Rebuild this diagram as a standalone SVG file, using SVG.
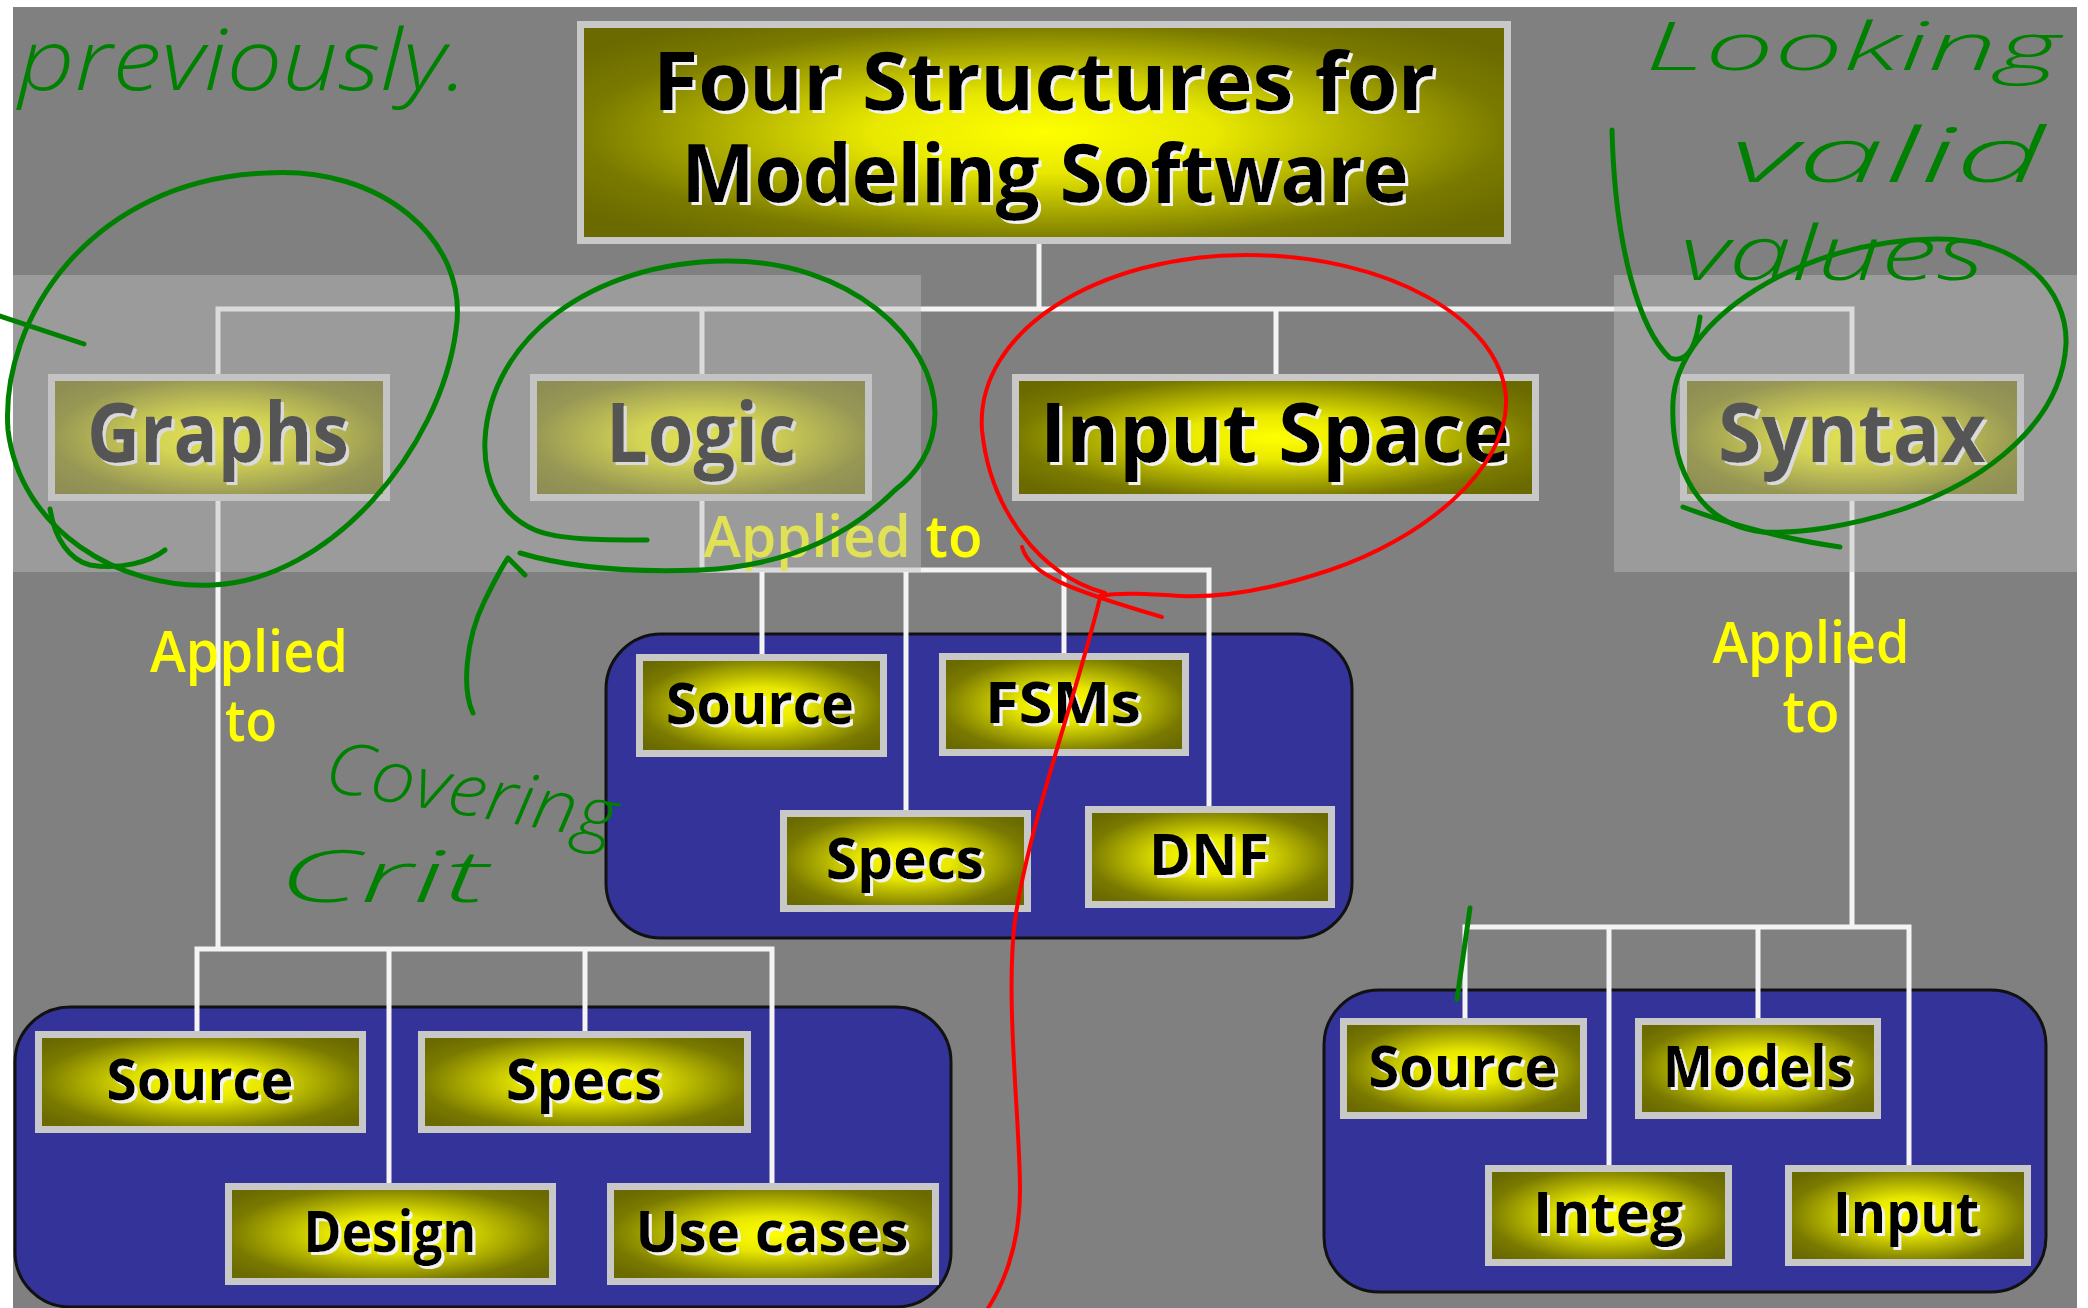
<svg xmlns="http://www.w3.org/2000/svg" width="2088" height="1308" viewBox="0 0 2088 1308">
<defs>
<radialGradient id="yg" cx="0.5" cy="0.5" r="0.62">
<stop offset="0" stop-color="#ffff00"/>
<stop offset="0.3" stop-color="#e8e800"/>
<stop offset="0.8" stop-color="#7a7a00"/>
<stop offset="1" stop-color="#6a6a00"/>
</radialGradient>
<filter id="ws" x="-5%" y="-10%" width="115%" height="130%">
<feOffset in="SourceAlpha" dx="3" dy="3" result="o"/>
<feFlood flood-color="#f2f2f2" result="f"/>
<feComposite in="f" in2="o" operator="in" result="s"/>
<feMerge><feMergeNode in="s"/><feMergeNode in="SourceGraphic"/></feMerge>
</filter>
<style>
.bx{fill:url(#yg);stroke:#c8c8c8;stroke-width:7}
.grp{fill:#333399;stroke:#111111;stroke-width:3}
.ln{stroke:#f4f4f4;stroke-width:5;fill:none;stroke-linecap:square}
.t{font-family:"Open Sans","DejaVu Sans",sans-serif;font-weight:bold;text-anchor:middle;fill:#000000;filter:url(#ws)}
.ap{font-family:"Open Sans","DejaVu Sans",sans-serif;font-weight:600;font-size:57px;fill:#ffff00;text-anchor:middle}
.g{stroke:#008000;stroke-width:5;fill:none;stroke-linecap:round;stroke-linejoin:round}
.r{stroke:#ff0000;stroke-width:4;fill:none;stroke-linecap:round;stroke-linejoin:round}
.hw{font-family:"Open Sans","DejaVu Sans",sans-serif;font-style:italic;font-weight:300;fill:#008000}
</style>
</defs>
<rect x="0" y="0" width="2088" height="1308" fill="#ffffff"/>
<rect x="13" y="7" width="2064" height="1301" fill="#808080"/>

<g id="group-graphs-targets"><rect class="grp" x="15" y="1007" width="936" height="300" rx="55"/></g>
<g id="group-logic-targets"><rect class="grp" x="606" y="634" width="746" height="304" rx="55"/></g>
<g id="group-syntax-targets"><rect class="grp" x="1324" y="990" width="722" height="302" rx="55"/></g>

<g id="connectors">
<path class="ln" d="M1039 244 V309 M218 309 H1852 M218 309 V374 M702 309 V374 M1276 309 V374 M1852 309 V374"/>
<path class="ln" d="M218 501 V949 M197 949 H772 M197 949 V1031 M389 949 V1183 M585 949 V1031 M772 949 V1183"/>
<path class="ln" d="M702 501 V570 H1209 M762 570 V654 M906 570 V810 M1064 570 V654 M1209 570 V806"/>
<path class="ln" d="M1852 501 V927 M1465 927 H1909 M1465 927 V1018 M1609 927 V1165 M1758 927 V1018 M1909 927 V1165"/>
</g>

<g id="title">
<rect class="bx" x="580.5" y="24.5" width="927" height="216"/>
<text class="t" font-size="80" x="1044" y="110" textLength="782" lengthAdjust="spacingAndGlyphs">Four Structures for</text>
<text class="t" font-size="80" x="1045" y="202" textLength="727" lengthAdjust="spacingAndGlyphs">Modeling Software</text>
</g>

<g id="graphs">
<rect class="bx" x="51.5" y="377.5" width="335" height="120"/>
<text class="t" font-size="82" x="218" y="462" textLength="262" lengthAdjust="spacingAndGlyphs">Graphs</text>
</g>
<g id="logic">
<rect class="bx" x="533.5" y="377.5" width="335" height="120"/>
<text class="t" font-size="82" x="701" y="462" textLength="190" lengthAdjust="spacingAndGlyphs">Logic</text>
</g>
<g id="input-space">
<rect class="bx" x="1015.5" y="377.5" width="520" height="120"/>
<text class="t" font-size="82" x="1275" y="462" textLength="470" lengthAdjust="spacingAndGlyphs">Input Space</text>
</g>
<g id="syntax">
<rect class="bx" x="1683.5" y="377.5" width="337" height="120"/>
<text class="t" font-size="82" x="1852" y="462" textLength="268" lengthAdjust="spacingAndGlyphs">Syntax</text>
</g>

<g id="g-source">
<rect class="bx" x="38.5" y="1034.5" width="324" height="95"/>
<text class="t" font-size="57" x="200" y="1100" textLength="187" lengthAdjust="spacingAndGlyphs">Source</text>
</g>
<g id="g-specs">
<rect class="bx" x="421.5" y="1034.5" width="326" height="95"/>
<text class="t" font-size="57" x="584" y="1100" textLength="156" lengthAdjust="spacingAndGlyphs">Specs</text>
</g>
<g id="g-design">
<rect class="bx" x="228.5" y="1186.5" width="324" height="95"/>
<text class="t" font-size="57" x="390" y="1252" textLength="173" lengthAdjust="spacingAndGlyphs">Design</text>
</g>
<g id="g-usecases">
<rect class="bx" x="610.5" y="1186.5" width="325" height="95"/>
<text class="t" font-size="57" x="772" y="1252" textLength="273" lengthAdjust="spacingAndGlyphs">Use cases</text>
</g>

<g id="l-source">
<rect class="bx" x="639.5" y="657.5" width="244" height="96"/>
<text class="t" font-size="57" x="760" y="724" textLength="188" lengthAdjust="spacingAndGlyphs">Source</text>
</g>
<g id="l-fsms">
<rect class="bx" x="942.5" y="656.5" width="243" height="96"/>
<text class="t" font-size="57" x="1063" y="723" textLength="156" lengthAdjust="spacingAndGlyphs">FSMs</text>
</g>
<g id="l-specs">
<rect class="bx" x="783.5" y="813.5" width="244" height="95"/>
<text class="t" font-size="57" x="905" y="879" textLength="158" lengthAdjust="spacingAndGlyphs">Specs</text>
</g>
<g id="l-dnf">
<rect class="bx" x="1088.5" y="809.5" width="243" height="95"/>
<text class="t" font-size="57" x="1209" y="875" textLength="120" lengthAdjust="spacingAndGlyphs">DNF</text>
</g>

<g id="s-source">
<rect class="bx" x="1343.5" y="1021.5" width="240" height="94"/>
<text class="t" font-size="57" x="1463" y="1087" textLength="189" lengthAdjust="spacingAndGlyphs">Source</text>
</g>
<g id="s-models">
<rect class="bx" x="1638.5" y="1021.5" width="239" height="94"/>
<text class="t" font-size="57" x="1758" y="1087" textLength="190" lengthAdjust="spacingAndGlyphs">Models</text>
</g>
<g id="s-integ">
<rect class="bx" x="1488.5" y="1168.5" width="240" height="94"/>
<text class="t" font-size="57" x="1608" y="1233" textLength="150" lengthAdjust="spacingAndGlyphs">Integ</text>
</g>
<g id="s-input">
<rect class="bx" x="1788.5" y="1168.5" width="239" height="94"/>
<text class="t" font-size="57" x="1906" y="1233" textLength="146" lengthAdjust="spacingAndGlyphs">Input</text>
</g>

<g id="labels">
<text class="ap" x="249" y="672" textLength="198" lengthAdjust="spacingAndGlyphs">Applied</text>
<text class="ap" x="251" y="741" textLength="52" lengthAdjust="spacingAndGlyphs">to</text>
<text class="ap" x="843" y="557" textLength="279" lengthAdjust="spacingAndGlyphs">Applied to</text>
<text class="ap" x="1811" y="663" textLength="197" lengthAdjust="spacingAndGlyphs">Applied</text>
<text class="ap" x="1811" y="732" textLength="57" lengthAdjust="spacingAndGlyphs">to</text>
</g>

<g id="highlight-bands">
<rect x="13" y="275" width="908" height="297" fill="#bdbdbd" fill-opacity="0.45"/>
<rect x="1614" y="275" width="463" height="297" fill="#bdbdbd" fill-opacity="0.45"/>
</g>

<g id="ink">
<path class="g" d="M266 173 C380 165 470 240 456 330 C440 450 330 580 213 585 C120 590 20 530 8 430 C0 320 90 180 266 173"/>
<path class="g" d="M50 509 C55 540 70 560 90 565 C120 570 150 562 165 550"/>
<path class="g" d="M0 316 L84 344"/>
<path class="g" d="M647 540 C600 540 560 540 535 530 C500 515 483 480 485 440 C490 340 590 262 726 261 C850 260 935 340 935 413 C935 450 915 475 895 490 C840 545 770 567 700 570 C620 573 560 565 520 553"/>
<path class="g" d="M473 713 C462 690 465 640 485 600 C495 580 503 565 508 558 L525 575"/>
<path class="g" d="M1763 532 C1700 525 1670 470 1673 402 C1677 320 1800 240 1936 239 C2020 238 2068 290 2066 344 C2062 420 1990 480 1900 510 C1850 526 1800 534 1763 532"/>
<path class="g" d="M1683 507 C1730 525 1790 540 1840 547"/>
<path class="g" d="M1612 130 C1615 250 1640 330 1670 358 C1690 365 1697 340 1700 317"/>
<path class="g" d="M1470 908 L1457 999"/>
<path class="r" d="M1105 593 C1040 575 990 510 982 430 C975 330 1100 255 1246 255 C1390 255 1500 320 1506 397 C1510 470 1420 540 1330 570 C1270 590 1220 598 1180 596 C1150 594 1120 592 1100 596"/>
<path class="r" d="M1022 547 C1030 575 1070 590 1162 617"/>
<path class="r" d="M1100 598 C1075 700 1030 820 1015 920 C1005 1000 1020 1120 1020 1190 C1020 1250 1000 1290 988 1308"/>
<text class="hw" font-size="84" x="18" y="90" textLength="450" lengthAdjust="spacingAndGlyphs">previously.</text>
<text class="hw" font-size="72" x="322" y="790" textLength="295" lengthAdjust="spacingAndGlyphs" transform="rotate(10 322 790)">Covering</text>
<text class="hw" font-size="72" x="278" y="902" textLength="210" lengthAdjust="spacingAndGlyphs">Crit</text>
<text class="hw" font-size="66" x="1645" y="70" textLength="415" lengthAdjust="spacingAndGlyphs">Looking</text>
<text class="hw" font-size="76" x="1730" y="182" textLength="315" lengthAdjust="spacingAndGlyphs">valid</text>
<text class="hw" font-size="76" x="1680" y="280" textLength="305" lengthAdjust="spacingAndGlyphs">values</text>
</g>
</svg>
